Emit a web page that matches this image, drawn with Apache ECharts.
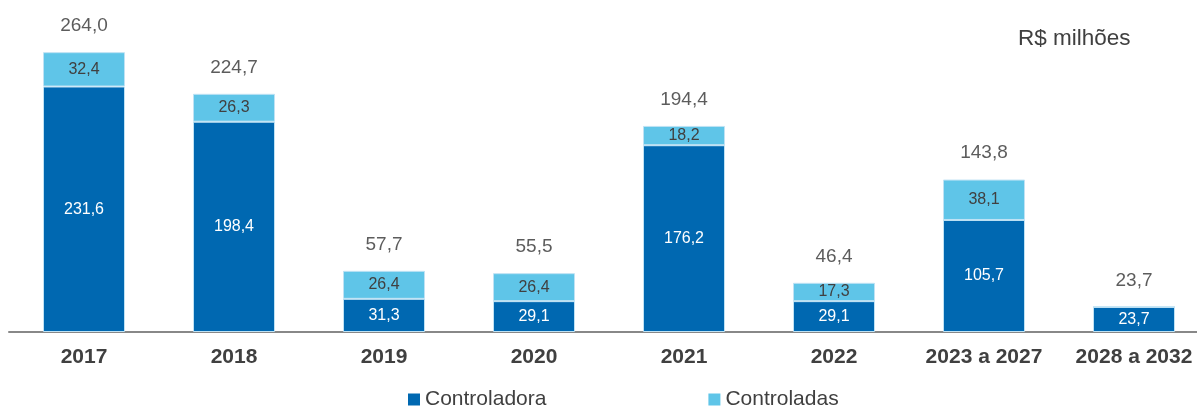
<!DOCTYPE html>
<html>
<head>
<meta charset="utf-8">
<script src="https://cdn.jsdelivr.net/npm/echarts@6/dist/echarts.min.js"></script>
<style>
  html, body { margin: 0; padding: 0; background: #fff; }
  #chart { width: 1197px; height: 409px; }
</style>
</head>
<body>
<div id="chart"></div>
<script>
const categories = ['2017', '2018', '2019', '2020', '2021', '2022', '2023 a 2027', '2028 a 2032'];
const controladora = [231.6, 198.4, 31.3, 29.1, 176.2, 29.1, 105.7, 23.7];
const controladas = [32.4, 26.3, 26.4, 26.4, 18.2, 17.3, 38.1, 0];
const totals = [264.0, 224.7, 57.7, 55.5, 194.4, 46.4, 143.8, 23.7];

const fmt = v => v.toFixed(1).replace('.', ',');
const textColor = '#404040';
const font = '"Liberation Sans", Arial, sans-serif';

const chart = echarts.init(document.getElementById('chart'));

const option = {
    backgroundColor: '#fff',
    animation: false,
    textStyle: { fontFamily: font },
    grid: {
        left: 9,
        right: -12,
        top: 14,
        bottom: 77,
        outerBoundsMode: 'none',
        containLabel: false
    },
    legend: {
        data: ['Controladora', 'Controladas'],
        left: 403,
        top: 384,
        itemWidth: 12,
        itemHeight: 12,
        itemGap: 162,
        icon: 'rect',
        itemStyle: { borderWidth: 0 },
        textStyle: { color: textColor, fontSize: 21, fontFamily: font }
    },
    graphic: [{
        type: 'text',
        left: 1018,
        top: 27,
        style: { text: 'R$ milhões', fill: textColor, fontSize: 22.5, fontFamily: font }
    }],
    xAxis: {
        type: 'category',
        data: categories,
        axisTick: { show: false },
        axisLine: { lineStyle: { color: '#888', width: 2 } },
        axisLabel: {
            interval: 0,
            color: textColor,
            fontSize: 21,
            fontWeight: 'bold',
            fontFamily: font,
            margin: 15
        }
    },
    yAxis: {
        type: 'value',
        min: 0,
        max: 300,
        show: false,
        splitLine: { show: false }
    },
    series: [
        {
            name: 'Controladora',
            type: 'bar',
            stack: 'total',
            barWidth: 82,
            data: controladora,
            itemStyle: { color: '#0068b1', borderColor: '#bfe2f4', borderWidth: 1 },
            label: {
                show: true,
                position: 'inside',
                color: '#fff',
                fontSize: 16,
                fontFamily: font,
                formatter: p => fmt(p.value)
            }
        },
        {
            name: 'Controladas',
            type: 'bar',
            stack: 'total',
            barWidth: 82,
            data: controladas,
            itemStyle: { color: '#5fc5e8', borderColor: '#bfe2f4', borderWidth: 1 },
            label: {
                show: true,
                position: 'inside',
                color: textColor,
                fontSize: 16,
                fontFamily: font,
                formatter: p => (p.value > 0 ? fmt(p.value) : '')
            }
        },
        {
            name: 'Total',
            type: 'scatter',
            symbolSize: 0,
            data: totals,
            silent: true,
            label: {
                show: true,
                position: 'top',
                distance: 17,
                color: '#333',
                fontSize: 19,
                fontFamily: font,
                formatter: p => fmt(p.value)
            }
        }
    ]
};

chart.setOption(option);
</script>
</body>
</html>
